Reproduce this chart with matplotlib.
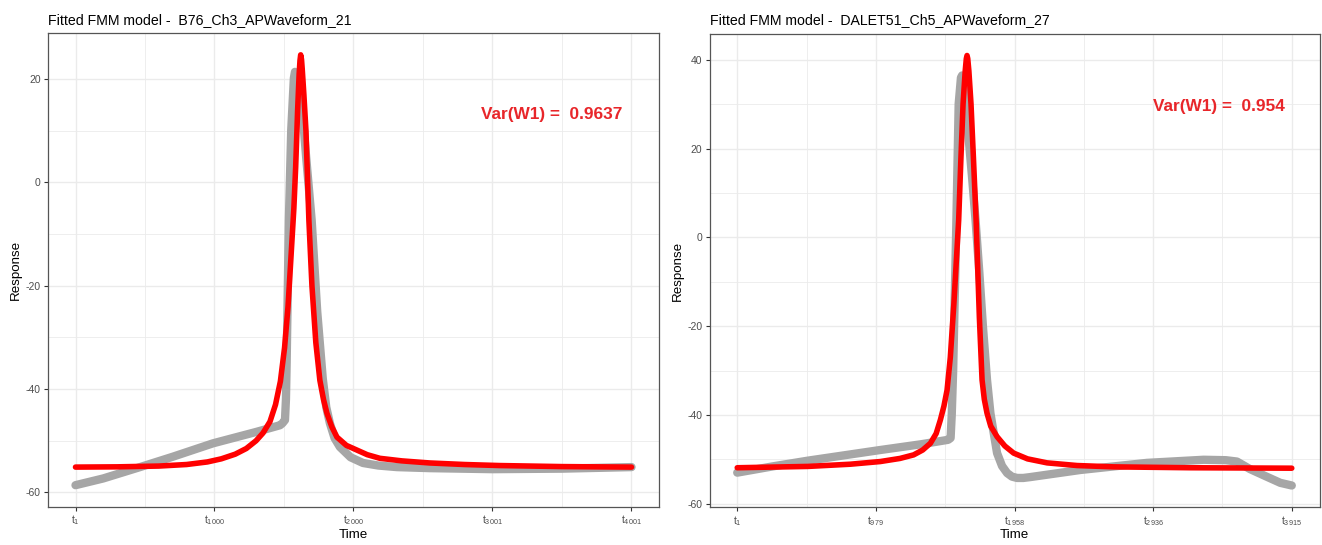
import numpy as np
import matplotlib
matplotlib.use("Agg")
import matplotlib.pyplot as plt

plt.rcParams['font.family'] = ['Liberation Sans', 'DejaVu Sans']
plt.rcParams['axes.unicode_minus'] = False

## panel 1: B76_Ch3_APWaveform_21
t_obs_1 = [1, 200, 465, 700, 990, 1300, 1472, 1490, 1508, 1515, 1520, 1536, 1553, 1572,
           1580, 1588, 1600, 1630, 1660, 1700, 1740, 1780, 1805, 1831, 1865, 1903, 1980,
           2069, 2180, 2313, 2550, 3000, 3500, 4001]
y_obs_1 = [-58.6, -57.3, -55.1, -53.1, -50.5, -48.3, -47.0, -46.6, -46.0, -42.0, -35.0, -7.3,
           10.1, 20.2, 21.4, 21.0, 20.0, 15.0, 5.0, -7.3, -25.0, -38.0, -43.5, -46.6, -49.5,
           -51.2, -53.2, -54.3, -54.8, -55.1, -55.3, -55.5, -55.4, -55.1]
t_fit_1 = [1, 300, 600, 800, 950, 1050, 1150, 1230, 1300, 1350, 1400, 1440, 1475, 1505,
           1530, 1550, 1572, 1585, 1599, 1610, 1616, 1621, 1627, 1632, 1644, 1659, 1680,
           1702, 1730, 1759, 1785, 1810, 1845, 1882, 1950, 2025, 2100, 2191, 2350, 2550,
           2800, 3054, 3500, 4001]
y_fit_1 = [-55.1, -55.05, -54.9, -54.6, -54.1, -53.5, -52.6, -51.5, -50.0, -48.5, -46.3,
           -43.0, -38.5, -32.0, -24.0, -15.0, -5.0, 3.0, 14.0, 21.0, 23.6, 24.7, 23.8, 22.0,
           17.0, 10.0, -7.3, -20.0, -31.0, -38.3, -42.0, -44.7, -47.3, -49.3, -50.9, -51.8,
           -52.7, -53.4, -53.9, -54.3, -54.6, -54.8, -55.0, -55.1]
ticks_1 = [1, 1000, 2000, 3001, 4001]
var_1 = "0.9637"

## panel 2: DALET51_Ch5_APWaveform_27
t_obs_2 = [1, 250, 500, 1011, 1300, 1490, 1507, 1515, 1525, 1548, 1564, 1580, 1588, 1600,
           1630, 1660, 1683, 1710, 1735, 1764, 1788, 1835, 1870, 1906, 1940, 1976, 2020,
           2070, 2423, 2893, 3293, 3450, 3528, 3620, 3730, 3834, 3915]
y_obs_2 = [-53.0, -51.6, -50.3, -47.9, -46.6, -45.6, -45.2, -40.0, -30.0, 3.9, 30.1, 36.0,
           36.5, 34.0, 24.0, 13.0, 3.9, -8.0, -20.0, -32.1, -39.6, -48.6, -51.5, -53.1, -53.9,
           -54.2, -54.2, -54.0, -52.4, -50.8, -50.1, -50.2, -50.5, -52.2, -53.8, -55.3, -55.9]
t_fit_2 = [1, 500, 800, 1011, 1150, 1246, 1310, 1364, 1405, 1435, 1460, 1482, 1505, 1530,
           1548, 1564, 1580, 1595, 1610, 1618, 1623, 1628, 1636, 1651, 1668, 1687, 1710,
           1729, 1745, 1764, 1790, 1835, 1890, 1952, 2050, 2188, 2400, 2658, 3200, 3915]
y_fit_2 = [-51.9, -51.6, -51.1, -50.5, -49.8, -49.0, -47.9, -46.4, -44.2, -41.1, -38.0,
           -34.4, -27.0, -15.0, -5.0, 3.9, 18.0, 30.1, 37.5, 40.3, 41.0, 40.3, 37.5, 30.1,
           18.0, 3.9, -18.0, -32.1, -36.5, -39.6, -42.5, -44.9, -47.0, -48.6, -49.9, -50.8,
           -51.4, -51.7, -51.9, -52.0]
ticks_2 = [1, 979, 1958, 2936, 3915]
var_2 = "0.954"

panels = [
    ("B76_Ch3_APWaveform_21", t_obs_1, y_obs_1, t_fit_1, y_fit_1, ticks_1, [20, 0, -20, -40, -60],
     var_1, (3428, 13.2)),
    ("DALET51_Ch5_APWaveform_27", t_obs_2, y_obs_2, t_fit_2, y_fit_2, ticks_2,
     [40, 20, 0, -20, -40, -60], var_2, (3400, 29.5)),
]

W, H = 1322, 545
fig = plt.figure(figsize=(W / 100, H / 100), dpi=100)
fig.patch.set_facecolor('white')

# panel boxes in pixels: left, top, right, bottom
boxes = [(47.7, 33.3, 659.3, 506.7), (709.5, 34.0, 1319.5, 507.0)]

for (name, tx, yx, tf, yf, ticks, yticks, var, vpos), (l, t, r, b) in zip(panels, boxes):
    ax = fig.add_axes([l / W, 1 - b / H, (r - l) / W, (b - t) / H])

    # ggplot-like expansion (5%)
    xr = ticks[-1] - ticks[0]
    ax.set_xlim(ticks[0] - 0.05 * xr, ticks[-1] + 0.05 * xr)
    ylo = min(min(yx), min(yf))
    yhi = max(max(yx), max(yf))
    yr = yhi - ylo
    ax.set_ylim(ylo - 0.05 * yr, yhi + 0.05 * yr)

    # grid, theme_bw style
    minors_x = [(a + c) / 2 for a, c in zip(ticks[:-1], ticks[1:])]
    minors_y = [(a + c) / 2 for a, c in zip(yticks[:-1], yticks[1:])]
    for mx in minors_x:
        ax.axvline(mx, color='#EBEBEB', lw=0.6, zorder=0)
    for my in minors_y:
        ax.axhline(my, color='#EBEBEB', lw=0.6, zorder=0)
    for mx in ticks:
        ax.axvline(mx, color='#EBEBEB', lw=1.0, zorder=0)
    for my in yticks:
        ax.axhline(my, color='#EBEBEB', lw=1.0, zorder=0)

    ax.plot(tx, yx, color='#A6A6A6', lw=6.0, solid_capstyle='round',
            solid_joinstyle='round', zorder=2)
    ax.plot(tf, yf, color='#FF0000', lw=4.0, solid_capstyle='round',
            solid_joinstyle='round', zorder=3)

    ax.set_xticks(ticks)
    ax.set_xticklabels([r'$\mathregular{t_{%d}}$' % k for k in ticks])
    ax.set_yticks(yticks)
    ax.set_yticklabels([str(v) for v in yticks])
    ax.tick_params(length=3, width=0.8, color='#333333', labelsize=7.5,
                   labelcolor='#4D4D4D', pad=2)
    for sp in ax.spines.values():
        sp.set_color('#555555')
        sp.set_linewidth(0.9)

    ax.text(vpos[0], vpos[1], "Var(W1) =  " + var, color='#E8262A',
            fontsize=12.4, fontweight='bold', ha='center', va='center')

    fig.text(l / W, 1 - 24 / H, "Fitted FMM model -  " + name, fontsize=10.2,
             ha='left', va='baseline')
    fig.text((l + r) / 2 / W, 1 - 535 / H, "Time", fontsize=9.6, ha='center', va='center')
    fig.text((l - 32) / W, 1 - ((t + b) / 2) / H, "Response", fontsize=9.6,
             rotation=90, ha='center', va='center')

fig.savefig('out.png', dpi=100, facecolor='white')
